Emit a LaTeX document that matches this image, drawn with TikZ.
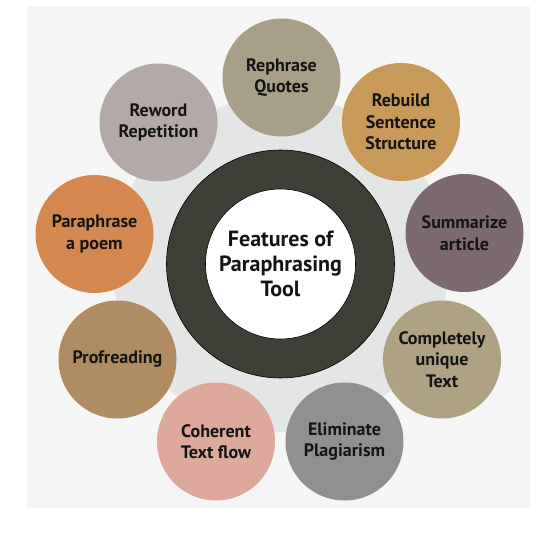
\documentclass[tikz,border=0pt]{standalone}
\usepackage{fontspec}
\setmainfont{PT Sans}
\definecolor{bgc}{HTML}{F5F5F5}
\definecolor{haloc}{HTML}{E4E6E6}
\definecolor{ringc}{HTML}{3E3F37}
\definecolor{txtc}{HTML}{141414}
\definecolor{c1}{HTML}{A89F88}
\definecolor{c2}{HTML}{C89A5A}
\definecolor{c3}{HTML}{7D6A70}
\definecolor{c4}{HTML}{AFA283}
\definecolor{c5}{HTML}{909090}
\definecolor{c6}{HTML}{DCA99B}
\definecolor{c7}{HTML}{B08C62}
\definecolor{c8}{HTML}{D4884F}
\definecolor{c9}{HTML}{B3AAA7}
\tikzset{
  feat/.style={circle, minimum size=118pt, inner sep=0pt, align=center,
    text=txtc, font=\bfseries\fontsize{18}{21.5}\selectfont},
}
\begin{document}
\begin{tikzpicture}[x=1pt,y=-1pt]
\useasboundingbox (0,0) rectangle (547,535);
\fill[bgc] (27,6) rectangle (530,508);
\coordinate (c) at (280.5,264);
\fill[haloc] (c) circle (168pt);
\node[feat, fill=c1] (f1) at (281.5,77.5) {Rephrase\\Quotes};
\node[feat, fill=c2] (f2) at (401,122) {Rebuild\\Sentence\\Structure};
\node[feat, fill=c3] (f3) at (464.5,233) {Summarize\\article};
\node[feat, fill=c4] (f4) at (442,359.5) {Completely\\unique\\Text};
\node[feat, fill=c5] (f5) at (344.5,441.5) {Eliminate\\Plagiarism};
\node[feat, fill=c6] (f6) at (216,441.5) {Coherent\\Text flow};
\node[feat, fill=c7] (f7) at (117.5,359.5) {Profreading};
\node[feat, fill=c8] (f8) at (94.5,234) {Paraphrase\\a poem};
\node[feat, fill=c9] (f9) at (158.5,122.5) {Reword\\Repetition};
\node[circle, minimum size=228pt, inner sep=0pt, fill=ringc, draw=black, line width=0.6pt] (ring) at (c) {};
\node[circle, minimum size=150pt, inner sep=0pt, fill=white, draw=black, line width=0.6pt, align=center,
  text=txtc, font=\bfseries\fontsize{22}{25}\selectfont] (hub) at (c) {Features of\\Paraphrasing\\Tool};
\end{tikzpicture}
\end{document}
